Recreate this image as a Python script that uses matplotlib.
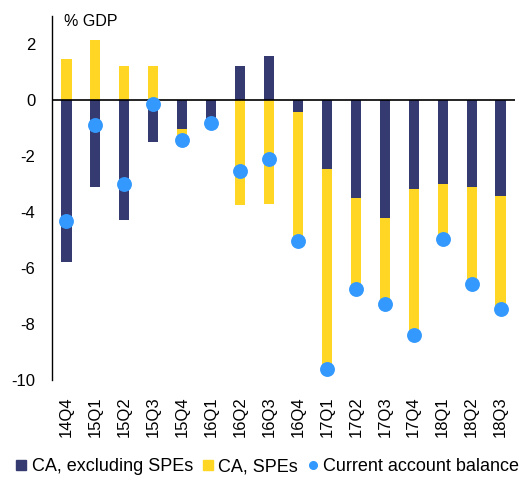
import matplotlib
matplotlib.use("Agg")
import matplotlib.pyplot as plt
from matplotlib.lines import Line2D
import numpy as np

plt.rcParams['font.family'] = ['Liberation Sans', 'DejaVu Sans']
plt.rcParams['axes.unicode_minus'] = False

quarters = ["14Q4", "15Q1", "15Q2", "15Q3", "15Q4", "16Q1", "16Q2", "16Q3",
            "16Q4", "17Q1", "17Q2", "17Q3", "17Q4", "18Q1", "18Q2", "18Q3"]
ca_ex_spe = [-5.8, -3.1, -4.29, -1.49, -1.04, -0.74, 1.2, 1.56,
             -0.44, -2.46, -3.49, -4.21, -3.18, -3.0, -3.12, -3.42]
ca_spe = [1.45, 2.12, 1.2, 1.2, -0.2, 0.0, -3.77, -3.71,
          -4.56, -7.11, -3.18, -3.04, -5.18, -1.94, -3.37, -4.02]
ca_balance = [-4.31, -0.89, -3.01, -0.15, -1.43, -0.83, -2.54, -2.1,
              -5.04, -9.6, -6.74, -7.29, -8.39, -4.98, -6.56, -7.46]

navy = "#353B70"
yellow = "#FFD623"
blue = "#3399FF"

fig = plt.figure(figsize=(5.25, 4.78), dpi=100)
ax = fig.add_axes([0.099, 0.205, 0.882, 0.762])

x = np.arange(len(quarters))
a = np.array(ca_ex_spe)
b = np.array(ca_spe)
bottom_b = np.where(np.sign(a) == np.sign(b), a, 0.0)
w = 0.35
ax.bar(x, a, width=w, color=navy, zorder=2)
ax.bar(x, b, width=w, bottom=bottom_b, color=yellow, zorder=2)
ax.axhline(0, color="black", lw=1.2, zorder=3)
ax.scatter(x, ca_balance, s=115, color=blue, zorder=4, linewidths=0)

ax.set_xlim(-0.5, len(quarters) - 0.5)
ax.set_ylim(-10, 3)
ax.set_yticks([2, 0, -2, -4, -6, -8, -10])
ax.set_xticks(x)
ax.set_xticklabels(quarters, rotation=90, fontsize=12)
ax.tick_params(axis="x", length=0, pad=12)
ax.tick_params(axis="y", length=0, pad=12, labelsize=12)
for s in ["top", "right", "bottom"]:
    ax.spines[s].set_visible(False)
ax.spines["left"].set_color("black")
ax.spines["left"].set_linewidth(1.0)

ax.text(0.027, 0.985, "% GDP", transform=ax.transAxes, fontsize=11.5,
        va="center", ha="left")

handles = [
    Line2D([], [], marker="s", ls="", color=navy, markersize=6.5),
    Line2D([], [], marker="s", ls="", color=yellow, markersize=6.5),
    Line2D([], [], marker="o", ls="", color=blue, markersize=5.5),
]
labels = ["CA, excluding SPEs", "CA, SPEs", "Current account balance"]
fig.legend(handles, labels, loc="center", bbox_to_anchor=(0.51, 0.024), ncol=3,
           frameon=False, fontsize=13, handlelength=0.55, handletextpad=0.3,
           columnspacing=0.55, borderaxespad=0)

fig.savefig("out.png", dpi=100)
